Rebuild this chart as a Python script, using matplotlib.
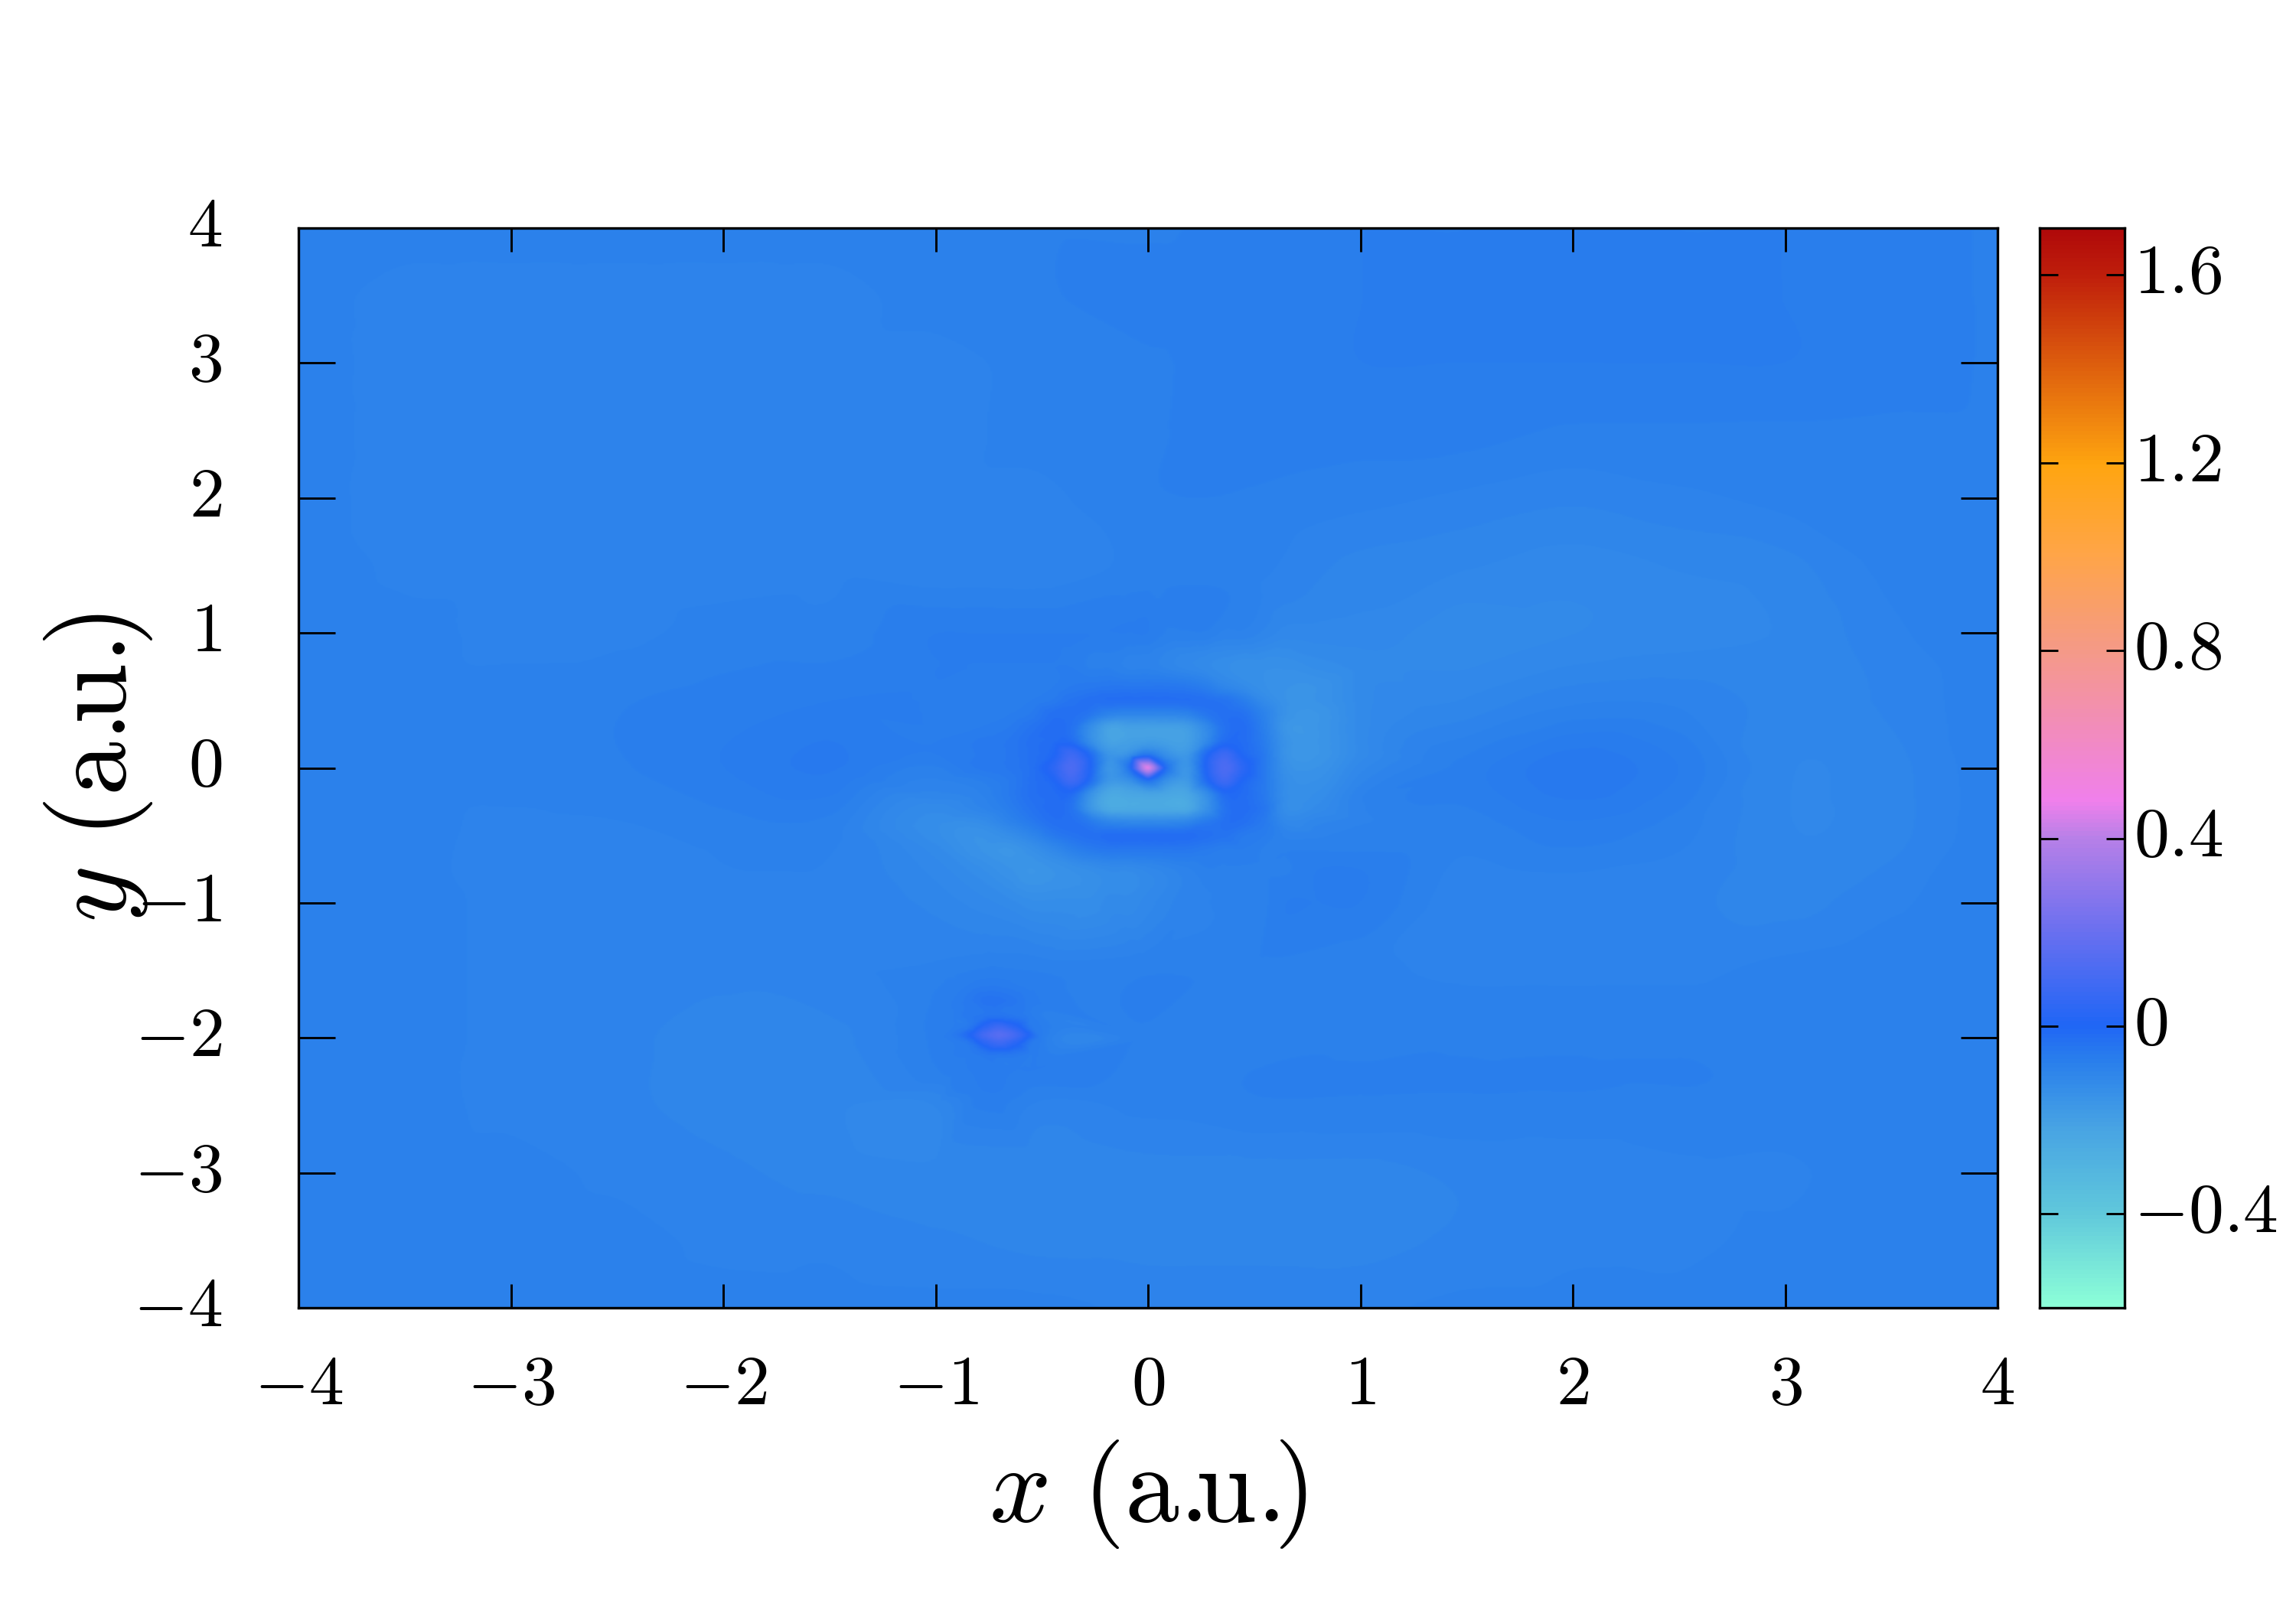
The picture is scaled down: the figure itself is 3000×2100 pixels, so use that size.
import numpy as np
import matplotlib
matplotlib.use("Agg")
import matplotlib.pyplot as plt
import matplotlib.tri as mtri
from matplotlib.colors import LinearSegmentedColormap, Normalize
from matplotlib.transforms import ScaledTranslation

plt.rcParams['mathtext.fontset'] = 'cm'
plt.rcParams['font.family'] = 'cmr10'
plt.rcParams['axes.unicode_minus'] = False

# coarse field, rows from y=4 down to y=-4, columns x=-4..4
bg_x = np.arange(-4, 4.5, 0.5)
bg_y = np.arange(4, -4.5, -0.5)
bg_z = np.array([
    [-.085, -.085, -.085, -.085, -.085, -.085, -.085, -.08, -.08, -.075, -.07, -.07, -.07, -.07, -.07, -.075, -.08],
    [-.085, -.09, -.09, -.09, -.09, -.09, -.085, -.08, -.075, -.075, -.07, -.065, -.065, -.065, -.07, -.075, -.08],
    [-.085, -.09, -.09, -.09, -.09, -.09, -.09, -.085, -.08, -.075, -.07, -.07, -.07, -.07, -.07, -.075, -.08],
    [-.085, -.09, -.09, -.09, -.095, -.09, -.09, -.085, -.08, -.075, -.075, -.075, -.08, -.08, -.08, -.08, -.08],
    [-.085, -.09, -.09, -.09, -.09, -.09, -.09, -.09, -.08, -.08, -.085, -.09, -.095, -.09, -.085, -.08, -.08],
    [-.08, -.09, -.09, -.09, -.09, -.09, -.095, -.095, -.085, -.085, -.10, -.105, -.11, -.105, -.10, -.085, -.08],
    [-.08, -.085, -.09, -.09, -.085, -.085, -.09, -.09, -.075, -.09, -.115, -.12, -.115, -.11, -.105, -.09, -.08],
    [-.08, -.085, -.085, -.08, -.075, -.07, -.07, -.07, -.07, -.11, -.12, -.105, -.09, -.09, -.10, -.095, -.08],
    [-.08, -.085, -.085, -.08, -.07, -.06, -.06, -.07, -.07, -.11, -.10, -.075, -.055, -.07, -.105, -.10, -.08],
    [-.08, -.085, -.09, -.09, -.085, -.085, -.095, -.11, -.11, -.085, -.085, -.085, -.075, -.085, -.105, -.10, -.08],
    [-.08, -.085, -.09, -.095, -.09, -.09, -.09, -.10, -.10, -.085, -.09, -.095, -.095, -.095, -.10, -.09, -.08],
    [-.08, -.085, -.09, -.095, -.095, -.09, -.085, -.08, -.08, -.08, -.085, -.09, -.09, -.09, -.085, -.08, -.08],
    [-.08, -.085, -.09, -.095, -.10, -.10, -.075, -.07, -.08, -.08, -.08, -.08, -.08, -.08, -.08, -.08, -.08],
    [-.08, -.085, -.09, -.095, -.10, -.105, -.105, -.09, -.085, -.08, -.08, -.08, -.08, -.08, -.08, -.08, -.08],
    [-.08, -.085, -.085, -.09, -.095, -.10, -.105, -.105, -.10, -.10, -.10, -.095, -.095, -.09, -.09, -.08, -.08],
    [-.08, -.085, -.085, -.085, -.09, -.09, -.095, -.10, -.10, -.10, -.10, -.095, -.09, -.09, -.085, -.08, -.08],
    [-.085, -.085, -.085, -.085, -.085, -.085, -.085, -.085, -.09, -.09, -.09, -.085, -.085, -.085, -.08, -.08, -.08],
])

# rings and spots around the origin
core_x = np.array([-1, -.8, -.65, -.55, -.45, -.36, -.27, -.18, -.09, 0, .09, .18, .27, .36, .45, .55, .65, .8, 1])
core_y = np.array([1, .75, .6, .5, .4, .3, .2, .1, 0, -.1, -.2, -.3, -.4, -.5, -.6, -.75, -1])
core_z = np.array([
    [-.07, -.07, -.07, -.07, -.07, -.07, -.07, -.07, -.07, -.07, -.08, -.08, -.08, -.09, -.09, -.10, -.11, -.11, -.11],
    [-.07, -.07, -.07, -.07, -.07, -.07, -.08, -.08, -.09, -.09, -.10, -.11, -.12, -.13, -.14, -.14, -.14, -.13, -.12],
    [-.07, -.07, -.07, -.07, -.07, -.06, -.055, -.05, -.05, -.05, -.05, -.055, -.07, -.10, -.12, -.14, -.15, -.15, -.12],
    [-.07, -.07, -.07, -.07, -.06, -.04, -.03, -.025, -.025, -.025, -.025, -.025, -.03, -.04, -.07, -.12, -.15, -.15, -.12],
    [-.07, -.07, -.07, -.06, -.03, -.03, -.05, -.09, -.10, -.10, -.10, -.09, -.05, -.03, -.035, -.09, -.15, -.16, -.12],
    [-.07, -.07, -.06, -.04, -.02, -.035, -.13, -.21, -.20, -.20, -.20, -.19, -.12, -.035, -.02, -.08, -.16, -.16, -.12],
    [-.07, -.06, -.05, -.03, -.02, -.02, -.13, -.21, -.20, -.19, -.20, -.20, -.12, -.02, -.02, -.07, -.15, -.16, -.12],
    [-.07, -.06, -.05, -.03, -.005, .08, -.02, -.16, -.14, -.05, -.14, -.17, -.02, .08, -.005, -.06, -.15, -.16, -.12],
    [-.08, -.06, -.05, -.03, .03, .12, .00, -.16, -.04, .45, -.04, -.16, .00, .12, .03, -.06, -.14, -.15, -.11],
    [-.09, -.08, -.06, -.03, -.005, .08, -.03, -.17, -.15, -.05, -.15, -.18, -.03, .08, -.005, -.06, -.13, -.14, -.10],
    [-.10, -.09, -.06, -.03, -.02, -.02, -.15, -.24, -.23, -.22, -.23, -.23, -.14, -.02, -.02, -.06, -.13, -.13, -.09],
    [-.12, -.10, -.07, -.04, -.02, -.04, -.16, -.24, -.24, -.24, -.24, -.24, -.15, -.04, -.02, -.05, -.13, -.12, -.09],
    [-.13, -.13, -.09, -.06, -.03, -.03, -.06, -.10, -.11, -.11, -.11, -.10, -.06, -.03, -.03, -.06, -.11, -.10, -.09],
    [-.13, -.15, -.13, -.10, -.06, -.04, -.03, -.02, -.02, -.02, -.02, -.02, -.03, -.04, -.06, -.07, -.09, -.09, -.08],
    [-.12, -.15, -.16, -.14, -.11, -.08, -.06, -.05, -.05, -.05, -.05, -.05, -.06, -.07, -.07, -.08, -.08, -.08, -.08],
    [-.11, -.13, -.15, -.16, -.15, -.14, -.13, -.12, -.12, -.11, -.10, -.09, -.08, -.08, -.08, -.08, -.08, -.07, -.07],
    [-.10, -.11, -.12, -.13, -.13, -.13, -.13, -.12, -.12, -.11, -.10, -.09, -.09, -.08, -.08, -.08, -.07, -.07, -.07],
])

# lone spot near (-0.7, -2)
spot_x = np.array([-.92, -.84, -.77, -.70, -.63, -.56])
spot_y = np.array([-1.6, -1.72, -1.84, -1.92, -1.98, -2.04, -2.12, -2.25, -2.4])
spot_z = np.array([
    [-.075, -.07, -.065, -.065, -.07, -.075],
    [-.07, -.055, -.04, -.04, -.05, -.065],
    [-.07, -.055, -.045, -.04, -.05, -.065],
    [-.07, -.05, .03, .08, .03, -.05],
    [-.06, .00, .10, .15, .10, .00],
    [-.07, -.05, .03, .08, .03, -.05],
    [-.07, -.065, -.05, -.045, -.05, -.065],
    [-.075, -.07, -.065, -.065, -.07, -.07],
    [-.08, -.075, -.07, -.07, -.075, -.08],
])

cbar_ticks = [-0.4, 0, 0.4, 0.8, 1.2, 1.6]
cbar_labels = [r"$-0.4$", r"$0$", r"$0.4$", r"$0.8$", r"$1.2$", r"$1.6$"]
axis_ticks = [-4, -3, -2, -1, 0, 1, 2, 3, 4]
axis_labels = [r"$-4$", r"$-3$", r"$-2$", r"$-1$", r"$0$", r"$1$", r"$2$", r"$3$", r"$4$"]

vmin, vmax = -0.6, 1.7
cmap_vals = [-0.6, -0.4, -0.22, -0.08, -0.03, 0.0, 0.2, 0.4, 0.48, 0.8, 1.0, 1.2, 1.6, 1.7]
cmap_cols = ["#8cffd8", "#60c8dc", "#48a4e4", "#2a80ec", "#2470f2", "#2066f6", "#6a70f0",
             "#b880e8", "#f080ec", "#f59a88", "#ffa54a", "#ffa510", "#c0200c", "#b00a0a"]
cmap = LinearSegmentedColormap.from_list(
    "density", [((v - vmin) / (vmax - vmin), c) for v, c in zip(cmap_vals, cmap_cols)], N=256)
norm = Normalize(vmin, vmax)


def flat_points(xs, ys, zs):
    xx, yy = np.meshgrid(xs, ys)
    return xx.ravel(), yy.ravel(), zs.ravel()


# drop coarse points that the finer patches cover
bx, by, bz = flat_points(bg_x, bg_y, bg_z)
keep = ~((np.abs(bx) <= 1) & (np.abs(by) <= 1))
cx, cy, cz = flat_points(core_x, core_y, core_z)
sx, sy, sz = flat_points(spot_x, spot_y, spot_z)
keep2 = ~((bx > -1.0) & (bx < -0.5) & (by < -1.5) & (by > -2.5))
keep = keep & keep2
px = np.concatenate([bx[keep], cx, sx])
py = np.concatenate([by[keep], cy, sy])
pz = np.concatenate([bz[keep], cz, sz])

tri = mtri.Triangulation(px, py)
interp = mtri.CubicTriInterpolator(tri, pz, kind="geom")
gx = np.linspace(-4, 4, 1100)
gy = np.linspace(-4, 4, 1100)
GX, GY = np.meshgrid(gx, gy)
field = np.ma.filled(interp(GX, GY), -0.08)

fig = plt.figure(figsize=(10, 7), dpi=300)
ax = fig.add_axes([390 / 3000, 1 - 1709 / 2100, 2220 / 3000, 1411 / 2100])
ax.imshow(field, origin="lower", extent=[-4, 4, -4, 4], aspect="auto",
          cmap=cmap, norm=norm, interpolation="bicubic")
ax.set_xlim(-4, 4)
ax.set_ylim(-4, 4)
ax.set_xticks(axis_ticks, axis_labels)
ax.set_yticks(axis_ticks, axis_labels)
ax.tick_params(axis="x", direction="in", top=True, length=7.4, width=0.7, labelsize=22, pad=15)
ax.tick_params(axis="y", direction="in", right=True, length=11.5, width=0.7, labelsize=22, pad=24)
for s in ax.spines.values():
    s.set_linewidth(0.8)

fig.text(1500 / 3000, 1 - 1952 / 2100, r"$x\ \mathrm{(a.\!\!u.\!\!)}$", fontsize=34, ha="center", va="center")
fig.text(128 / 3000, 1 - 1003 / 2100, r"$y\ \mathrm{(a.\!\!u.\!\!)}$", fontsize=34, ha="center", va="center", rotation=90)

cax = fig.add_axes([2665 / 3000, 1 - 1709 / 2100, 111 / 3000, 1411 / 2100])
bar = np.linspace(vmin, vmax, 256).reshape(-1, 1)
cax.imshow(bar, origin="lower", extent=[0, 1, vmin, vmax], aspect="auto", cmap=cmap, norm=norm)
cax.set_xticks([])
cax.yaxis.tick_right()
cax.set_yticks(cbar_ticks, cbar_labels)
cax.tick_params(axis="y", direction="in", left=True, right=True, length=5.8, width=0.7, labelsize=22, pad=3)
for s in cax.spines.values():
    s.set_linewidth(0.8)

# mathtext sits a little low against the ticks
shift_up = ScaledTranslation(0, 1.9 / 72, fig.dpi_scale_trans)
for lab in ax.get_yticklabels() + cax.get_yticklabels():
    lab.set_transform(lab.get_transform() + shift_up)

plt.savefig("out.png", dpi=300)
